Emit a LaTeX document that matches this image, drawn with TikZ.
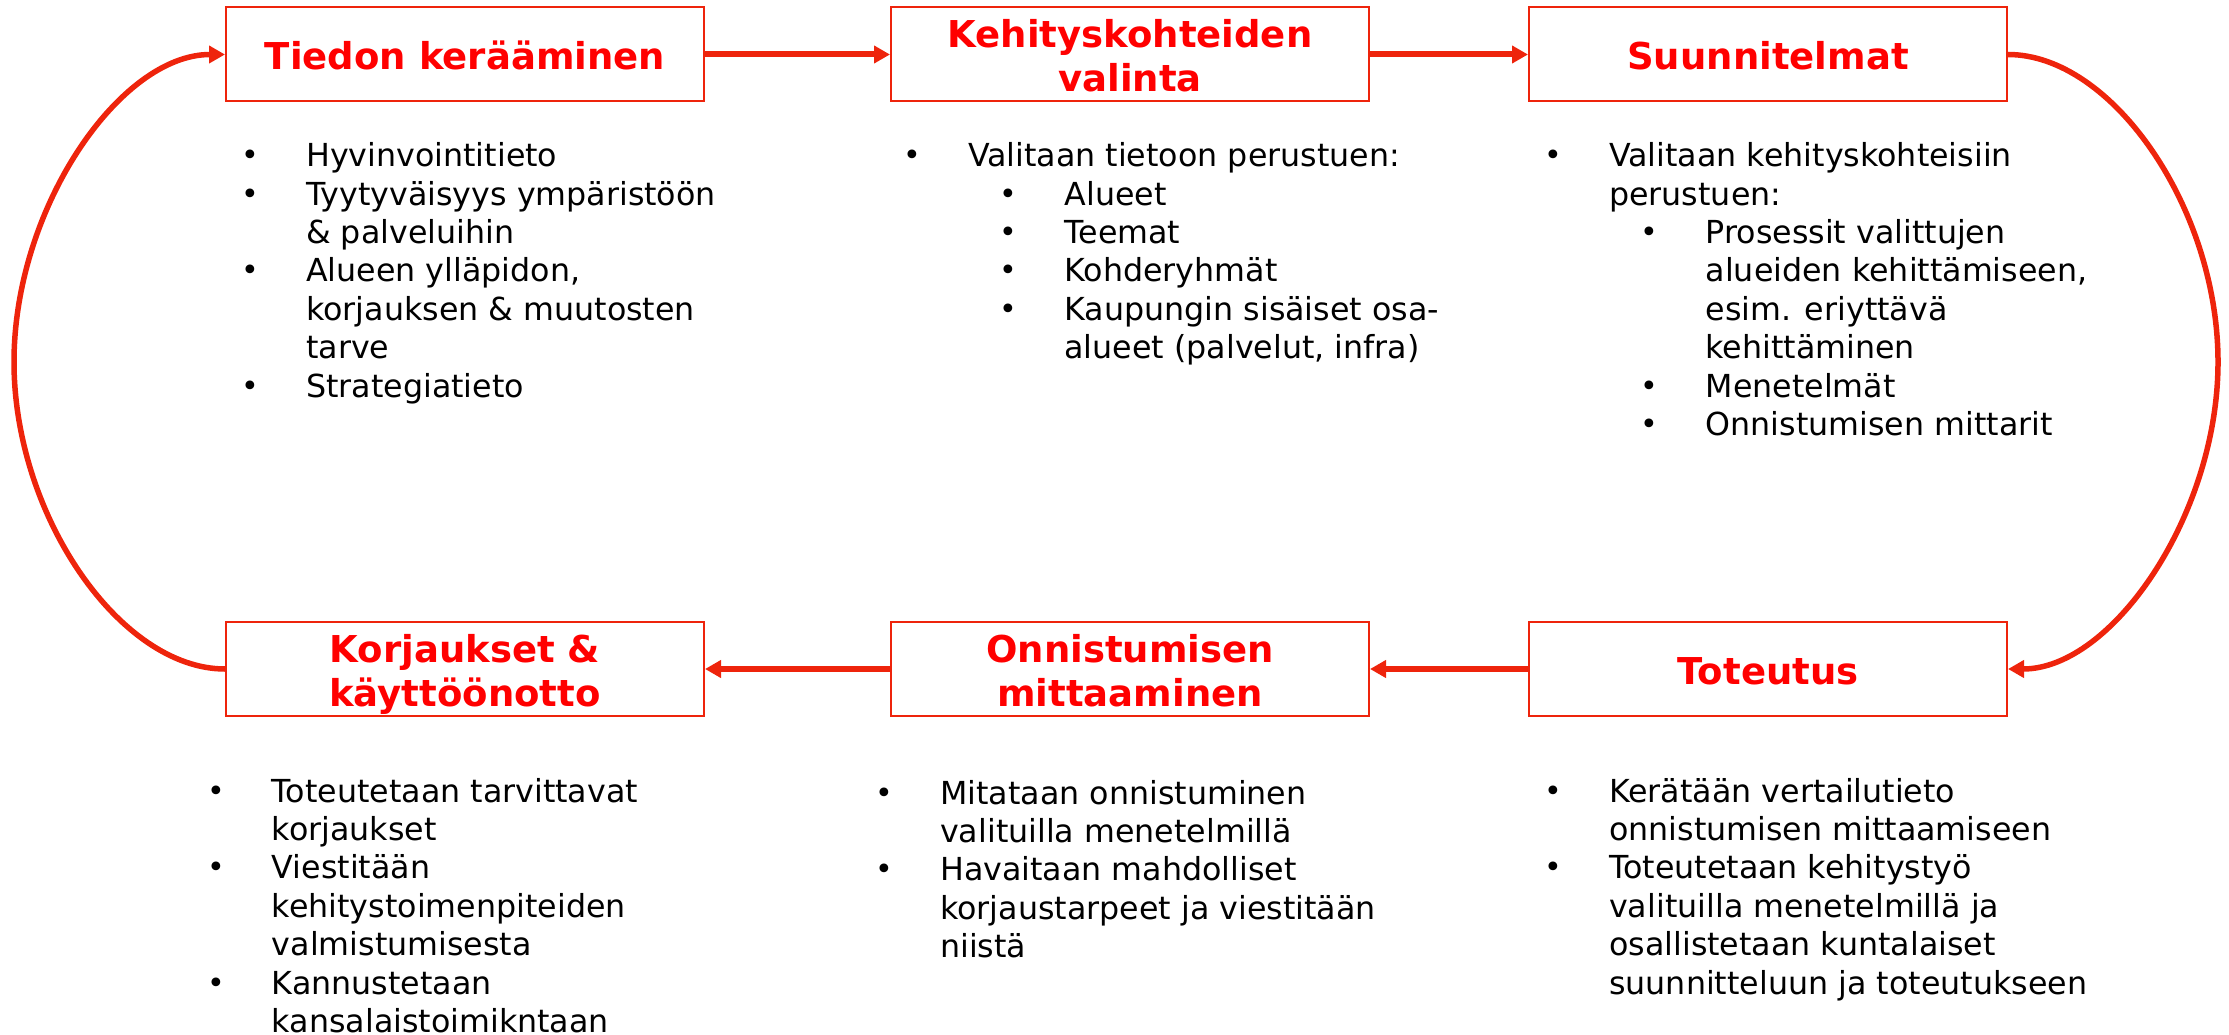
\documentclass[tikz,border=0pt]{standalone}
\usepackage{fontspec}
\setmainfont{DejaVu Sans}
\usetikzlibrary{arrows.meta}
\definecolor{boxred}{RGB}{238,36,12}
\definecolor{titlered}{RGB}{255,0,0}
\newcommand\bulg{\makebox[0pt]{\raisebox{1pt}{\fontsize{30}{30}\selectfont •}}}
\newcommand\Bl{\bulg\hspace*{56pt}}
\newcommand\Il{\hspace*{56pt}}
\newcommand\SBl{\hspace*{96.5pt}\bulg\hspace*{56pt}}
\newcommand\SIl{\hspace*{152.5pt}}
\begin{document}
\begin{tikzpicture}[x=1pt,y=-1pt,
  stage/.style={draw=boxred, line width=2pt, minimum width=478pt, minimum height=94pt,
    inner sep=0pt, text=titlered, font=\fontsize{37}{44}\selectfont\bfseries,
    align=center, text height=31pt, text depth=0pt},
  stagetwo/.style={stage, text height=75pt},
  body/.style={anchor=base west, inner sep=0pt, text=black,
    font=\fontsize{31.7}{38.4}\selectfont},
  arr/.style={draw=boxred, line width=6pt, -{Triangle[length=16pt,width=17pt]}},
  carr/.style={draw=boxred, line width=5.5pt, -{Triangle[length=16pt,width=17pt]}}]
\useasboundingbox (0,0) rectangle (2229,1035);

\node[stage] (b1) at (465,54.5) {Tiedon kerääminen};
\node[stagetwo] (b2) at (1130,54.5) {Kehityskohteiden\\valinta};
\node[stage] (b3) at (1768,54.5) {Suunnitelmat};
\node[stagetwo] (b4) at (465,669) {Korjaukset \&\\käyttöönotto};
\node[stagetwo] (b5) at (1130,669) {Onnistumisen\\mittaaminen};
\node[stage] (b6) at (1768,669) {Toteutus};

\coordinate (rmid) at (2218,362);
\coordinate (lmid) at (14,362);

\draw[arr] (b1.east) -- (b2.west);
\draw[arr] (b2.east) -- (b3.west);
\draw[arr] (b6.west) -- (b5.east);
\draw[arr] (b5.west) -- (b4.east);
\draw[carr] (b3.east) .. controls (2112,54.5) and (2218,208) .. (rmid)
  .. controls (2218,515) and (2112,669) .. (b6.east);
\draw[carr] (b4.west) .. controls (120,669) and (14,515) .. (lmid)
  .. controls (14,208) and (120,54.5) .. (b1.west);

\node[body] (t1) at (250,166.7) {\parbox[t]{700pt}{\raggedright
\Bl Hyvinvointitieto\\
\Bl Tyytyväisyys ympäristöön\\
\Il \& palveluihin\\
\Bl Alueen ylläpidon,\\
\Il korjauksen \& muutosten\\
\Il tarve\\
\Bl Strategiatieto}};

\node[body] (t2) at (911.8,166.7) {\parbox[t]{700pt}{\raggedright
\Bl Valitaan tietoon perustuen:\\
\SBl Alueet\\
\SBl Teemat\\
\SBl Kohderyhmät\\
\SBl Kaupungin sisäiset osa-\\
\SIl alueet (palvelut, infra)}};

\node[body] (t3) at (1553,166.7) {\parbox[t]{650pt}{\raggedright
\Bl Valitaan kehityskohteisiin\\
\Il perustuen:\\
\SBl Prosessit valittujen\\
\SIl alueiden kehittämiseen,\\
\SIl esim. eriyttävä\\
\SIl kehittäminen\\
\SBl Menetelmät\\
\SBl Onnistumisen mittarit}};

\node[body] (t4) at (215.7,802) {\parbox[t]{650pt}{\raggedright
\Bl Toteutetaan tarvittavat\\
\Il korjaukset\\
\Bl Viestitään\\
\Il kehitystoimenpiteiden\\
\Il valmistumisesta\\
\Bl Kannustetaan\\
\Il kansalaistoimikntaan}};

\node[body] (t5) at (884,804) {\parbox[t]{650pt}{\raggedright
\Bl Mitataan onnistuminen\\
\Il valituilla menetelmillä\\
\Bl Havaitaan mahdolliset\\
\Il korjaustarpeet ja viestitään\\
\Il niistä}};

\node[body] (t6) at (1553,802) {\parbox[t]{650pt}{\raggedright
\Bl Kerätään vertailutieto\\
\Il onnistumisen mittaamiseen\\
\Bl Toteutetaan kehitystyö\\
\Il valituilla menetelmillä ja\\
\Il osallistetaan kuntalaiset\\
\Il suunnitteluun ja toteutukseen}};
\end{tikzpicture}
\end{document}
